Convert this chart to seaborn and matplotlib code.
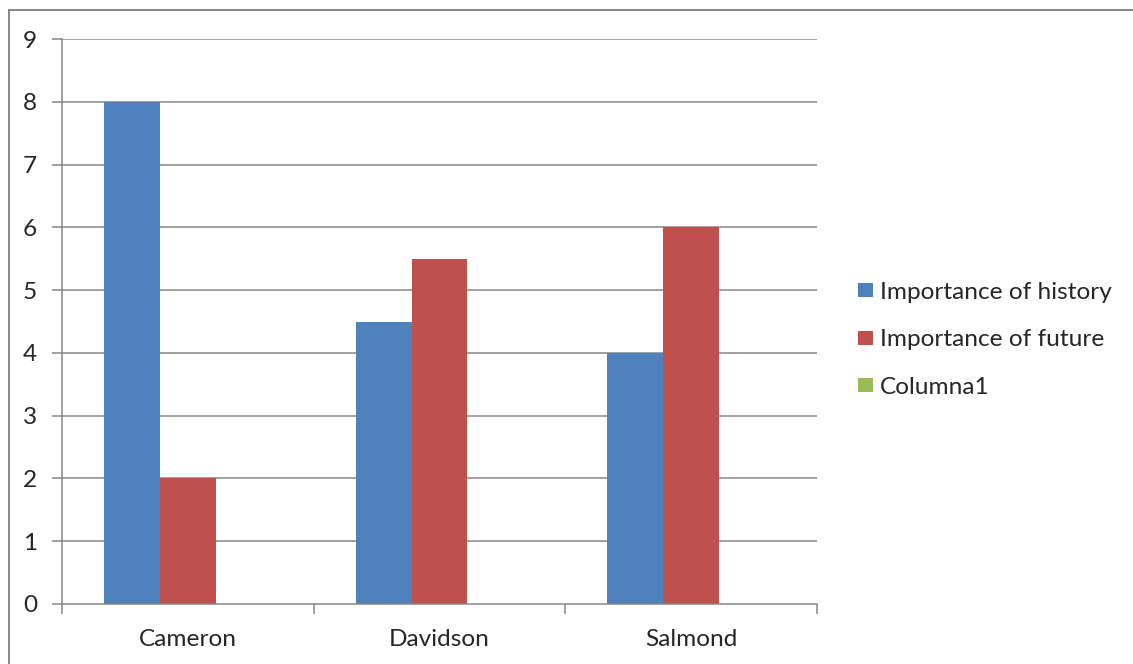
import matplotlib
matplotlib.use("Agg")
import matplotlib.pyplot as plt
from matplotlib.lines import Line2D
from matplotlib.patches import Patch
import seaborn as sns
import pandas as pd

categories = ["Cameron", "Davidson", "Salmond"]
series_names = ["Importance of history", "Importance of future", "Columna1"]
history = [8, 4.5, 4]
future = [2, 5.5, 6]
columna1 = [0, 0, 0]
y_ticks = [0, 1, 2, 3, 4, 5, 6, 7, 8, 9]

colors = ["#4F81BD", "#C0504D", "#9BBB59"]

rows = []
for name, vals in zip(series_names, [history, future, columna1]):
    for cat, v in zip(categories, vals):
        rows.append({"category": cat, "series": name, "value": v})
df = pd.DataFrame(rows)

sns.set_style("white")
plt.rcParams["font.family"] = ["Lato", "DejaVu Sans"]

W, H = 1133, 664
FS = 17.6
fig = plt.figure(figsize=(W / 100, H / 100), dpi=100)
ax = fig.add_axes([62 / W, 1 - 604 / H, (817 - 62) / W, (604 - 39) / H])

sns.barplot(data=df, x="category", y="value", hue="series", order=categories,
            hue_order=series_names, palette=colors, width=0.667, gap=0,
            linewidth=0, saturation=1, ax=ax, legend=False)

grid_c = "#868686"
ax.set_xlim(-0.5, 2.5)
ax.set_ylim(0, 9)
ax.set_yticks(y_ticks)
ax.set_yticklabels([str(t) for t in y_ticks])
for t in y_ticks[1:]:
    ax.axhline(t, color=grid_c, lw=1.1, zorder=0)
ax.set_axisbelow(True)

for side in ["top", "right"]:
    ax.spines[side].set_visible(False)
for side in ["left", "bottom"]:
    ax.spines[side].set_color(grid_c)
    ax.spines[side].set_linewidth(1.1)

ax.tick_params(axis="y", which="major", direction="out", length=7, width=1.1,
               color=grid_c, labelsize=FS, pad=11, left=True)
ax.tick_params(axis="x", which="major", length=0, labelsize=FS, pad=18)
ax.set_xticks([-0.5, 0.5, 1.5, 2.5], minor=True)
ax.tick_params(axis="x", which="minor", direction="out", length=7, width=1.1,
               color=grid_c, bottom=True)
ax.set_xlabel("")
ax.set_ylabel("")

handles = [Patch(facecolor=c, edgecolor="none") for c in colors]
fig.legend(handles, series_names, loc="center left",
           bbox_to_anchor=(858 / W, 1 - 340 / H), frameon=False,
           fontsize=FS, handlelength=0.6, handleheight=0.5,
           handletextpad=0.3, labelspacing=1.08, borderaxespad=0,
           borderpad=0)

# outer chart frame
fig.add_artist(Line2D([8.5 / W, 8.5 / W], [0, 1 - 9.5 / H],
                      transform=fig.transFigure, color="#7f7f7f", lw=1.3))
fig.add_artist(Line2D([8.5 / W, 1], [1 - 9.5 / H, 1 - 9.5 / H],
                      transform=fig.transFigure, color="#7f7f7f", lw=1.3))

fig.savefig("out.png", dpi=100)
